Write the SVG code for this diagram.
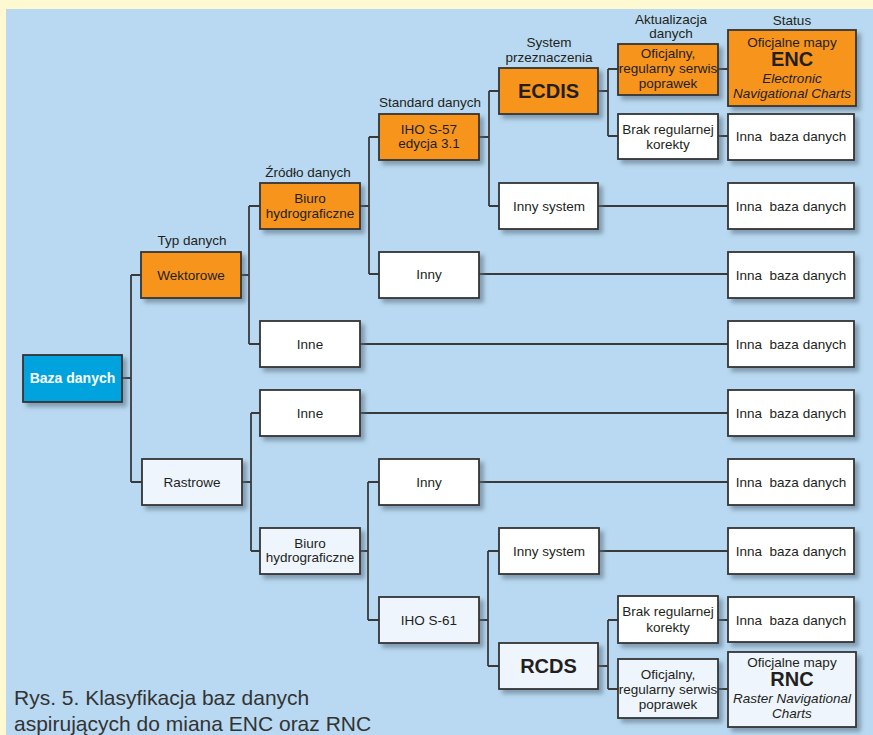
<svg xmlns="http://www.w3.org/2000/svg" width="873" height="735" viewBox="0 0 873 735">
  <style>
    .box { stroke: #333333; stroke-width: 1.8; filter: url(#shadow); }
    .orange { fill: #F7941D; }
    .white { fill: #FFFFFF; }
    .pale { fill: #EEF5FC; }
    .blue { fill: #00A3DD; }
    text { font-family: "Liberation Sans", Arial, sans-serif; fill: #231F20; font-size: 13.5px; text-anchor: middle; white-space: pre; }
    .hdr { font-size: 13.5px; }
    .big { font-weight: bold; font-size: 20px; }
    .it { font-style: italic; }
    .root { fill: #FFFFFF; font-weight: bold; font-size: 14px; }
    .cap { font-size: 21px; text-anchor: start; fill: #333333; }
    #connectors path { fill: none; stroke: #3A3A3A; stroke-width: 1.8; }
  </style>
  <defs>
    <filter id="shadow" x="-10%" y="-10%" width="130%" height="140%">
      <feGaussianBlur in="SourceAlpha" stdDeviation="2"/>
      <feOffset dx="4" dy="4" result="b"/>
      <feFlood flood-color="#56697C" flood-opacity="0.55"/>
      <feComposite in2="b" operator="in"/>
      <feMerge>
        <feMergeNode/>
        <feMergeNode in="SourceGraphic"/>
      </feMerge>
    </filter>
  </defs>

  <!-- page background -->
  <rect x="0" y="0" width="873" height="735" fill="#FFF9D2"/>
  <rect x="6" y="9" width="867" height="726" fill="#B8D9F1"/>

  <!-- connectors -->
  <g id="connectors">
    <path d="M122,378 H131 M131,275 V482 M131,275 H141 M131,482 H142"/>
    <path d="M241,275 H249 M249,206 V344 M249,206 H260 M249,344 H260"/>
    <path d="M360,206 H369 M369,137 V274 M369,137 H379 M369,274 H379"/>
    <path d="M479,137 H489 M489,91 V206 M489,91 H499 M489,206 H499"/>
    <path d="M598,91 H608 M608,69 V136 M608,69 H618 M608,136 H618"/>
    <path d="M718,69 H728 M718,136 H728"/>
    <path d="M598,206 H728"/>
    <path d="M479,274 H728"/>
    <path d="M360,344 H728"/>
    <path d="M242,482 H251 M251,413 V551 M251,413 H260 M251,551 H260"/>
    <path d="M360,413 H728"/>
    <path d="M360,551 H368 M368,482 V620 M368,482 H379 M368,620 H379"/>
    <path d="M479,482 H728"/>
    <path d="M479,620 H488 M488,551 V666 M488,551 H499 M488,666 H499"/>
    <path d="M599,551 H728"/>
    <path d="M598,666 H608 M608,620 V689 M608,620 H618 M608,689 H618"/>
    <path d="M718,620 H728 M718,689 H728"/>
  </g>

  <!-- column headings -->
  <text class="hdr" x="192" y="245">Typ danych</text>
  <text class="hdr" x="308" y="177">Źródło danych</text>
  <text class="hdr" x="430" y="107">Standard danych</text>
  <text class="hdr" x="549" y="47">System</text>
  <text class="hdr" x="549" y="62">przeznaczenia</text>
  <text class="hdr" x="671" y="24">Aktualizacja</text>
  <text class="hdr" x="671" y="38">danych</text>
  <text class="hdr" x="792" y="25">Status</text>

  <!-- root -->
  <g id="baza">
    <rect class="box blue" x="23" y="355" width="99" height="47"/>
    <text class="root" x="72.5" y="383">Baza danych</text>
  </g>

  <!-- data type -->
  <g id="wektorowe">
    <rect class="box orange" x="141" y="252" width="100" height="46"/>
    <text x="191" y="280">Wektorowe</text>
  </g>
  <g id="rastrowe">
    <rect class="box pale" x="142" y="459" width="100" height="46"/>
    <text x="192" y="487">Rastrowe</text>
  </g>

  <!-- data source -->
  <g id="biuro-wekt">
    <rect class="box orange" x="260" y="183" width="100" height="46"/>
    <text x="310" y="203">Biuro</text>
    <text x="310" y="218">hydrograficzne</text>
  </g>
  <g id="inne-wekt">
    <rect class="box white" x="260" y="321" width="100" height="46"/>
    <text x="310" y="349">Inne</text>
  </g>
  <g id="inne-rast">
    <rect class="box white" x="260" y="390" width="100" height="46"/>
    <text x="310" y="418">Inne</text>
  </g>
  <g id="biuro-rast">
    <rect class="box pale" x="260" y="528" width="100" height="46"/>
    <text x="310" y="547.5">Biuro</text>
    <text x="310" y="562">hydrograficzne</text>
  </g>

  <!-- data standard -->
  <g id="s57">
    <rect class="box orange" x="379" y="114" width="100" height="46"/>
    <text x="429" y="133.5">IHO S-57</text>
    <text x="429" y="148">edycja 3.1</text>
  </g>
  <g id="inny-wekt">
    <rect class="box white" x="379" y="252" width="100" height="46"/>
    <text x="429" y="279">Inny</text>
  </g>
  <g id="inny-rast">
    <rect class="box white" x="379" y="459" width="100" height="46"/>
    <text x="429" y="487">Inny</text>
  </g>
  <g id="s61">
    <rect class="box pale" x="379" y="597" width="100" height="46"/>
    <text x="429" y="625">IHO S-61</text>
  </g>

  <!-- target system -->
  <g id="ecdis">
    <rect class="box orange" x="499" y="68" width="99" height="46"/>
    <text class="big" x="548.5" y="98">ECDIS</text>
  </g>
  <g id="inny-system-wekt">
    <rect class="box white" x="499" y="183" width="99" height="46"/>
    <text x="549" y="211">Inny system</text>
  </g>
  <g id="inny-system-rast">
    <rect class="box white" x="499" y="528" width="100" height="46"/>
    <text x="549" y="556">Inny system</text>
  </g>
  <g id="rcds">
    <rect class="box pale" x="499" y="643" width="99" height="46"/>
    <text class="big" x="548.5" y="673">RCDS</text>
  </g>

  <!-- update service -->
  <g id="oficjalny-enc">
    <rect class="box orange" x="618" y="44" width="100" height="51"/>
    <text x="668" y="58">Oficjalny,</text>
    <text x="668" y="73">regularny serwis</text>
    <text x="668" y="88">poprawek</text>
  </g>
  <g id="brak-enc">
    <rect class="box white" x="618" y="114" width="100" height="45"/>
    <text x="668" y="134">Brak regularnej</text>
    <text x="668" y="149">korekty</text>
  </g>
  <g id="brak-rnc">
    <rect class="box white" x="618" y="596" width="100" height="47"/>
    <text x="668" y="616">Brak regularnej</text>
    <text x="668" y="632">korekty</text>
  </g>
  <g id="oficjalny-rnc">
    <rect class="box pale" x="618" y="659" width="100" height="59"/>
    <text x="668" y="679">Oficjalny,</text>
    <text x="668" y="694">regularny serwis</text>
    <text x="668" y="709">poprawek</text>
  </g>

  <!-- status -->
  <g id="status-enc">
    <rect class="box orange" x="728" y="30" width="128" height="76"/>
    <text x="792" y="47">Oficjalne mapy</text>
    <text class="big" x="792" y="66">ENC</text>
    <text class="it" x="792" y="83">Electronic</text>
    <text class="it" x="792" y="98">Navigational Charts</text>
  </g>
  <g id="inna-1">
    <rect class="box white" x="728" y="114" width="126" height="46"/>
    <text x="791" y="141">Inna  baza danych</text>
  </g>
  <g id="inna-2">
    <rect class="box white" x="728" y="183" width="126" height="46"/>
    <text x="791" y="211">Inna  baza danych</text>
  </g>
  <g id="inna-3">
    <rect class="box white" x="728" y="252" width="126" height="46"/>
    <text x="791" y="280">Inna  baza danych</text>
  </g>
  <g id="inna-4">
    <rect class="box white" x="728" y="321" width="126" height="46"/>
    <text x="791" y="349">Inna  baza danych</text>
  </g>
  <g id="inna-5">
    <rect class="box white" x="728" y="390" width="126" height="46"/>
    <text x="791" y="418">Inna  baza danych</text>
  </g>
  <g id="inna-6">
    <rect class="box white" x="728" y="459" width="126" height="46"/>
    <text x="791" y="487">Inna  baza danych</text>
  </g>
  <g id="inna-7">
    <rect class="box white" x="728" y="528" width="126" height="46"/>
    <text x="791" y="556">Inna  baza danych</text>
  </g>
  <g id="inna-8">
    <rect class="box white" x="728" y="597" width="126" height="45"/>
    <text x="791" y="625">Inna  baza danych</text>
  </g>
  <g id="status-rnc">
    <rect class="box pale" x="728" y="652" width="128" height="75"/>
    <text x="792" y="667">Oficjalne mapy</text>
    <text class="big" x="792" y="686">RNC</text>
    <text class="it" x="792" y="703">Raster Navigational</text>
    <text class="it" x="792" y="718">Charts</text>
  </g>

  <!-- caption -->
  <text class="cap" x="14" y="705">Rys. 5. Klasyfikacja baz danych</text>
  <text class="cap" x="14" y="731">aspirujących do miana ENC oraz RNC</text>
</svg>
